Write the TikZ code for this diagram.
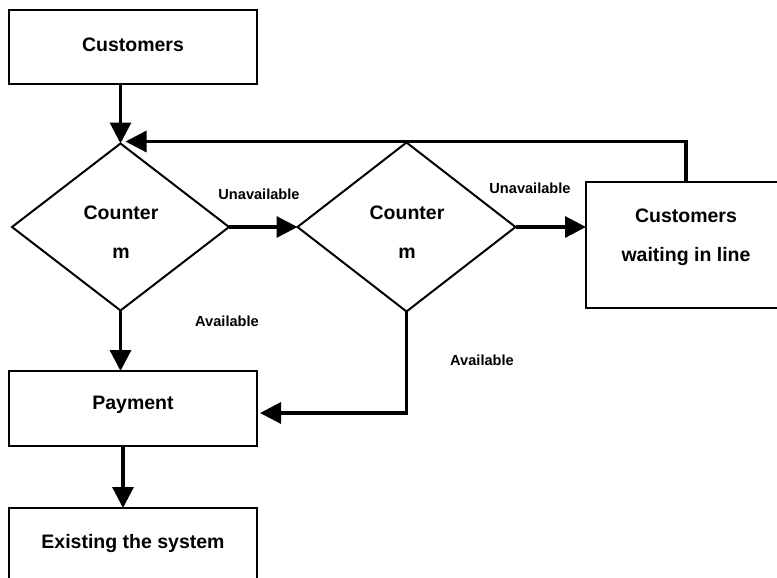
\documentclass[tikz,border=0pt]{standalone}
\usepackage{fontspec}
\setmainfont{Liberation Sans}
\usetikzlibrary{shapes.geometric,arrows.meta,calc}
\tikzset{
  box/.style={draw,line width=2.4pt,rectangle,inner sep=0pt,outer sep=0pt},
  dia/.style={draw,line width=2pt,diamond,aspect=1,inner sep=0pt,outer sep=0pt},
  big/.style={inner sep=0pt,font=\fontsize{19.5}{23}\selectfont\bfseries},
  lab/.style={inner sep=0pt,font=\fontsize{14.6}{17}\selectfont\bfseries},
  arr/.style={line width=3.2pt,-{Triangle[length=21pt,width=21pt]}},
  ln/.style={line width=3.2pt}
}
\begin{document}
\begin{tikzpicture}[x=1pt,y=-1pt]
\useasboundingbox (0,0) rectangle (777,578);
% boxes
\node[box,minimum width=248pt,minimum height=74pt] (cust) at (133,47) {};
\node[big] (custt) at (133,45) {Customers};
\node[box,minimum width=248pt,minimum height=75pt] (pay) at (133,408.5) {};
\node[big] (payt) at (133,405) {Payment};
\node[box,minimum width=248pt,minimum height=72pt] (exit) at (133,544) {};
\node[big] (exitt) at (133,543) {Existing the system};
\node[box,minimum width=200pt,minimum height=126pt] (wait) at (686,245) {};
\node[big] (waitt1) at (686,216) {Customers};
\node[big] (waitt2) at (686,256) {waiting in line};
% diamonds
\node[dia,minimum width=217pt,minimum height=167pt] (d1) at (120.5,227) {};
\node[big] (d1t1) at (121,213) {Counter};
\node[big] (d1t2) at (121,253) {m};
\node[dia,minimum width=218pt,minimum height=169pt] (d2) at (406.5,227) {};
\node[big] (d2t1) at (407,213) {Counter};
\node[big] (d2t2) at (407,253) {m};
% labels
\node[lab] (u1) at (259,194) {Unavailable};
\node[lab] (u2) at (530,188) {Unavailable};
\node[lab] (a1) at (227,321) {Available};
\node[lab] (a2) at (482,360) {Available};
% connectors
\draw[arr] (d1.north |- cust.south) -- (d1.north);
\draw[arr] (wait.north) |- ([xshift=5pt,yshift=2pt]d1.north);
\draw[arr] (d1.east) -- (d2.west);
\draw[arr] (d2.east) -- (d2.east -| wait.west);
\draw[arr] (d1.south) -- (d1.south |- pay.north);
\draw[arr] (d2.south) |- ([xshift=3pt,yshift=-4.5pt]pay.east);
\draw[arr] ([xshift=-10pt]pay.south) -- ([xshift=-10pt]exit.north);
\end{tikzpicture}
\end{document}
